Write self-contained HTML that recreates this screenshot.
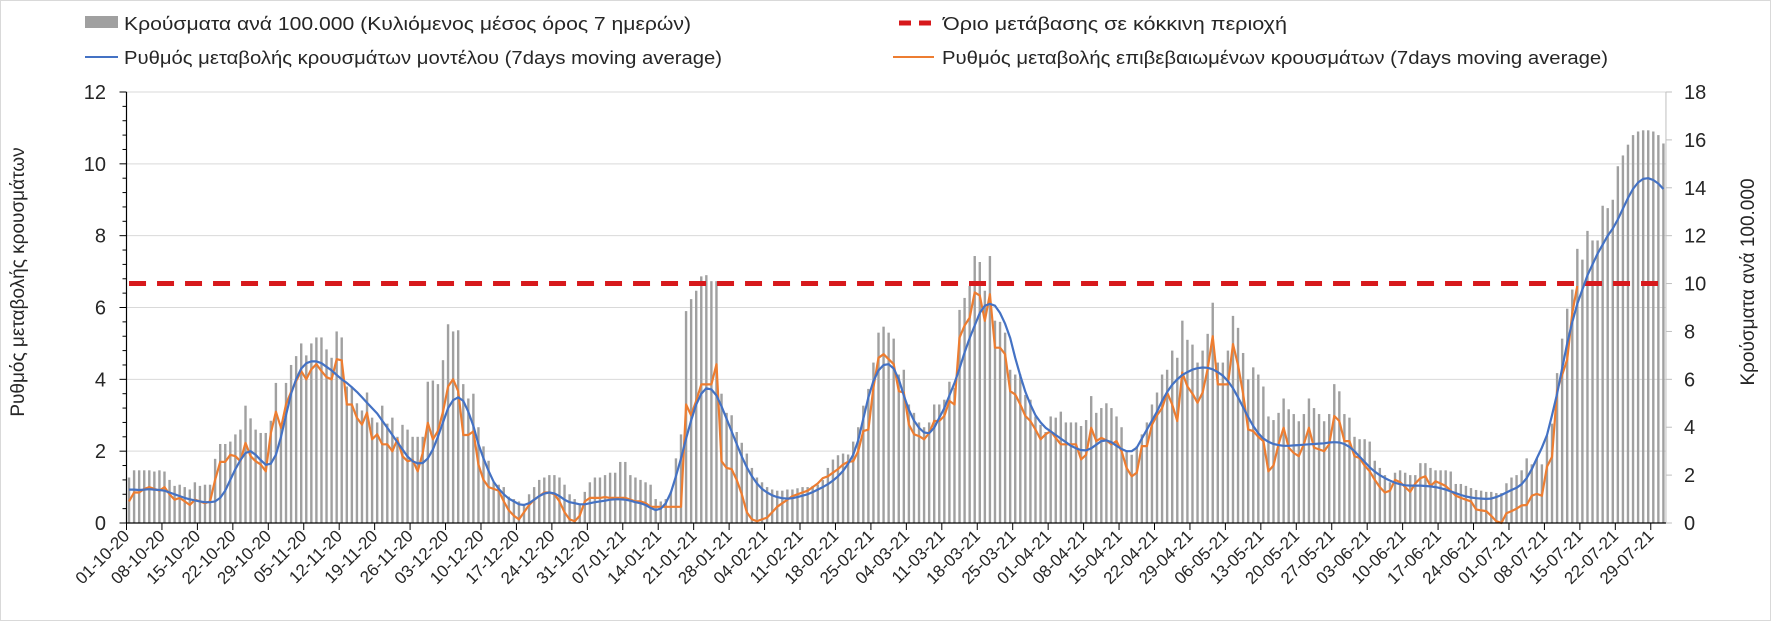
<!DOCTYPE html>
<html><head><meta charset="utf-8"><style>
html,body{margin:0;padding:0;background:#fff;}
svg{display:block;font-family:"Liberation Sans","DejaVu Sans",sans-serif;}
</style></head><body>
<svg id="chart" width="1771" height="621" viewBox="0 0 1771 621" xmlns="http://www.w3.org/2000/svg">
<rect x="0.5" y="0.5" width="1770" height="620" fill="#fff" stroke="#d9d9d9"/>
<g id="grid"></g>
<g id="bars"></g>
<g id="lines"></g>
<g id="axes"></g>
<g>
 <rect x="85" y="16" width="33" height="12" fill="#a0a0a0"/>
 <text x="124" y="30" font-size="18" fill="#262626" textLength="567" lengthAdjust="spacingAndGlyphs">Κρούσματα ανά 100.000 (Κυλιόμενος μέσος όρος 7 ημερών)</text>
 <line x1="85" y1="57" x2="118" y2="57" stroke="#4472c4" stroke-width="2"/>
 <text x="124" y="64" font-size="18" fill="#262626" textLength="598" lengthAdjust="spacingAndGlyphs">Ρυθμός μεταβολής κρουσμάτων μοντέλου (7days moving average)</text>
 <line x1="899" y1="23" x2="937" y2="23" stroke="#d7191c" stroke-width="5" stroke-dasharray="12,8"/>
 <text x="943" y="30" font-size="18" fill="#262626" textLength="344" lengthAdjust="spacingAndGlyphs">Όριο μετάβασης σε κόκκινη περιοχή</text>
 <line x1="893" y1="57" x2="934" y2="57" stroke="#ed7d31" stroke-width="2"/>
 <text x="942" y="64" font-size="18" fill="#262626" textLength="666" lengthAdjust="spacingAndGlyphs">Ρυθμός μεταβολής επιβεβαιωμένων κρουσμάτων (7days moving average)</text>
</g>
<text transform="translate(24,282) rotate(-90)" text-anchor="middle" font-size="19" fill="#262626">Ρυθμός μεταβολής κρουσμάτων</text>
<text transform="translate(1754,282) rotate(-90)" text-anchor="middle" font-size="19" fill="#262626">Κρούσματα ανά 100.000</text>
</svg>
<script>
const cases = [1.9,2.2,2.2,2.2,2.2,2.15,2.2,2.15,1.8,1.55,
1.6,1.5,1.4,1.7,1.55,1.6,1.6,2.68,3.3,3.3,
3.4,3.7,3.9,4.9,4.37,3.9,3.76,3.76,4.27,5.85,
4.1,5.85,6.6,6.97,7.5,7.0,7.5,7.75,7.75,7.25,
6.9,8.0,7.75,5.7,5.7,5.0,4.7,5.45,4.4,4.2,
4.9,4.15,4.4,3.6,4.1,3.9,3.6,3.6,3.6,5.9,
5.95,5.8,6.8,8.3,8.0,8.05,5.8,5.2,5.4,4.0,
3.2,2.6,1.7,1.6,1.5,1.1,1.0,0.9,0.8,1.2,
1.5,1.8,1.9,2.0,2.0,1.9,1.6,1.2,1.0,0.8,
1.3,1.7,1.9,1.9,2.0,2.1,2.1,2.55,2.55,2.0,
1.9,1.8,1.7,1.6,1.0,0.9,1.0,1.3,2.7,3.7,
8.85,9.35,9.7,10.3,10.35,10.1,10.1,5.4,4.6,4.5,
3.8,3.35,2.9,2.3,1.9,1.7,1.5,1.4,1.35,1.35,
1.4,1.4,1.45,1.5,1.5,1.55,1.6,1.8,2.3,2.65,
2.83,2.9,2.86,3.4,4.0,4.9,5.6,6.7,7.95,8.2,
7.95,7.7,6.2,6.4,4.95,4.6,4.2,4.0,4.2,4.95,
4.95,5.15,5.9,5.65,8.9,9.4,9.9,11.15,10.9,9.7,
11.15,8.45,8.4,7.95,6.4,6.2,6.2,5.35,5.15,4.45,
4.1,3.8,4.45,4.4,4.65,4.2,4.2,4.2,4.05,4.3,
5.3,4.6,4.8,5.0,4.8,4.45,4.0,3.0,2.85,3.2,
3.7,4.2,4.95,5.45,6.2,6.4,7.2,6.9,8.45,7.65,
7.45,6.7,7.2,7.9,9.2,6.7,6.7,7.2,8.65,8.15,
7.1,6.0,6.5,6.2,5.7,4.45,4.3,4.6,5.2,4.75,
4.55,4.25,4.55,5.2,4.8,4.55,4.25,4.55,5.8,5.5,
4.55,4.4,3.6,3.5,3.5,3.4,2.6,2.3,2.0,1.7,
2.1,2.2,2.1,2.0,2.0,2.5,2.5,2.3,2.2,2.2,
2.2,2.15,1.63,1.63,1.55,1.46,1.38,1.35,1.3,1.3,
1.25,1.25,1.66,1.9,2.0,2.2,2.7,2.45,2.7,2.45,
3.65,4.15,6.26,7.7,8.95,9.75,11.45,11.0,12.2,11.8,
11.8,13.25,13.15,13.5,14.9,15.35,15.8,16.2,16.35,16.4,
16.4,16.35,16.2,15.85];
const modelRate = [0.93,0.93,0.92,0.93,0.94,0.93,0.92,
0.9,0.85,0.8,0.75,0.7,0.66,0.63,
0.6,0.58,0.58,0.6,0.7,0.9,1.2,
1.5,1.75,1.95,2.0,1.9,1.75,1.62,
1.65,1.9,2.4,3.0,3.6,4.0,4.3,
4.45,4.5,4.5,4.45,4.35,4.25,4.12,
4.0,3.9,3.78,3.65,3.5,3.35,3.2,
3.05,2.85,2.65,2.45,2.25,2.05,1.85,
1.72,1.66,1.67,1.8,2.05,2.4,2.8,
3.2,3.42,3.5,3.4,3.1,2.7,2.2,
1.8,1.45,1.15,0.95,0.8,0.68,0.6,
0.52,0.5,0.55,0.65,0.75,0.82,0.85,
0.82,0.75,0.65,0.58,0.55,0.52,0.52,
0.55,0.58,0.6,0.62,0.65,0.66,0.66,
0.65,0.62,0.58,0.55,0.5,0.42,0.36,
0.4,0.55,0.85,1.3,1.8,2.35,2.85,
3.3,3.6,3.75,3.72,3.55,3.25,2.9,
2.55,2.2,1.85,1.55,1.3,1.1,0.95,
0.85,0.77,0.72,0.69,0.68,0.69,0.72,
0.76,0.8,0.86,0.93,1.0,1.08,1.18,
1.3,1.45,1.65,1.9,2.3,2.9,3.5,
3.95,4.25,4.4,4.42,4.3,4.0,3.55,
3.15,2.85,2.65,2.52,2.5,2.65,2.93,
3.2,3.55,3.9,4.3,4.75,5.15,5.5,
5.85,6.05,6.1,6.05,5.85,5.55,5.15,
4.6,4.1,3.65,3.3,3.0,2.8,2.65,
2.55,2.45,2.35,2.25,2.15,2.08,2.03,
2.02,2.08,2.18,2.28,2.3,2.25,2.15,
2.06,2.0,2.0,2.1,2.35,2.6,2.85,
3.1,3.4,3.65,3.85,4.0,4.12,4.2,
4.27,4.31,4.33,4.32,4.28,4.2,4.1,
3.95,3.75,3.5,3.22,2.95,2.7,2.5,
2.35,2.26,2.2,2.17,2.15,2.15,2.16,
2.17,2.18,2.19,2.2,2.21,2.22,2.24,
2.25,2.24,2.2,2.12,2.0,1.85,1.7,
1.55,1.43,1.33,1.25,1.18,1.12,1.08,
1.05,1.04,1.04,1.04,1.03,1.02,1.0,
0.97,0.93,0.88,0.83,0.78,0.74,0.71,
0.69,0.68,0.67,0.68,0.72,0.78,0.85,
0.92,0.98,1.08,1.25,1.5,1.8,2.1,
2.45,3.0,3.6,4.3,5.0,5.6,6.1,
6.5,6.9,7.2,7.5,7.75,8.0,8.2,
8.45,8.75,9.05,9.3,9.48,9.58,9.6,
9.55,9.45,9.3];
const confirmedRate = [0.6,0.85,0.85,0.95,1.0,0.95,0.9,1.0,0.8,0.65,
0.7,0.6,0.5,0.65,0.6,0.55,0.6,1.2,1.7,1.7,
1.9,1.86,1.72,2.23,1.86,1.72,1.63,1.44,2.5,3.1,
2.65,3.3,3.65,3.95,4.23,4.0,4.28,4.42,4.23,4.06,
4.0,4.56,4.53,3.3,3.3,2.93,2.74,3.07,2.33,2.47,
2.19,2.19,2.0,2.33,1.86,1.72,1.75,1.44,1.95,2.79,
2.33,2.56,3.1,3.8,4.0,3.67,2.45,2.45,2.55,1.63,
1.2,1.0,0.95,0.9,0.6,0.35,0.2,0.1,0.3,0.5,
0.65,0.75,0.85,0.85,0.8,0.6,0.3,0.1,0.05,0.2,
0.6,0.7,0.7,0.7,0.72,0.7,0.7,0.7,0.7,0.65,
0.6,0.6,0.55,0.45,0.45,0.45,0.45,0.45,0.45,0.45,
3.3,3.0,3.4,3.86,3.86,3.86,4.42,1.72,1.53,1.5,
1.2,0.8,0.3,0.1,0.05,0.1,0.15,0.3,0.45,0.55,
0.65,0.75,0.8,0.85,0.9,1.0,1.1,1.25,1.3,1.4,
1.5,1.63,1.7,1.72,2.0,2.56,2.6,3.77,4.6,4.7,
4.56,4.42,3.67,3.63,2.74,2.47,2.42,2.33,2.5,2.84,
2.84,2.98,3.4,3.3,5.16,5.5,5.72,6.42,6.33,5.63,
6.37,4.88,4.88,4.7,3.67,3.58,3.3,2.98,2.84,2.6,
2.33,2.47,2.56,2.37,2.19,2.19,2.19,2.19,1.77,1.9,
2.65,2.28,2.37,2.3,2.19,2.28,2.0,1.53,1.3,1.4,
2.14,2.14,2.74,3.0,3.2,3.63,3.3,2.84,4.19,3.8,
3.6,3.35,3.63,4.3,5.2,3.86,3.86,3.86,4.98,4.4,
3.6,2.6,2.56,2.4,2.28,1.44,1.6,2.2,2.65,2.1,
1.95,1.86,2.2,2.65,2.1,2.05,2.0,2.19,2.98,2.84,
2.28,2.28,1.86,1.81,1.6,1.44,1.2,1.0,0.85,0.9,
1.2,1.14,1.0,0.87,1.1,1.25,1.3,1.03,1.16,1.1,
1.03,0.9,0.76,0.7,0.65,0.6,0.38,0.35,0.33,0.2,
0.05,0,0.27,0.33,0.4,0.49,0.5,0.76,0.81,0.76,
1.57,1.84,3.69,4.12,4.55,5.85,6.6];
const thresholdCases = [10];
const leftTicks = [0,2,4,6,8,10,12];
const rightTicks = [0,2,4,6,8,10,12,14,16,18];
const dateLabels = ["01-10-20","08-10-20","15-10-20","22-10-20","29-10-20","05-11-20","12-11-20","19-11-20","26-11-20","03-12-20","10-12-20","17-12-20","24-12-20","31-12-20","07-01-21","14-01-21","21-01-21","28-01-21","04-02-21","11-02-21","18-02-21","25-02-21","04-03-21","11-03-21","18-03-21","25-03-21","01-04-21","08-04-21","15-04-21","22-04-21","29-04-21","06-05-21","13-05-21","20-05-21","27-05-21","03-06-21","10-06-21","17-06-21","24-06-21","01-07-21","08-07-21","15-07-21","22-07-21","29-07-21"];

const NS="http://www.w3.org/2000/svg";
const X0=126.5, DAY=5.064, NDAYS=304, Y0=523, YTOP=92;
const xEdge=d=>X0+d*DAY;
const xC=d=>X0+(d+0.5)*DAY;
const yL=v=>Y0-(Y0-YTOP)*v/12;
const yR=v=>Y0-(Y0-YTOP)*v/18;
const X1=xEdge(NDAYS);
function mk(tag,attrs,parent){const e=document.createElementNS(NS,tag);for(const k in attrs)e.setAttribute(k,attrs[k]);parent.appendChild(e);return e;}
const grid=document.getElementById('grid'),bars=document.getElementById('bars'),lines=document.getElementById('lines'),axes=document.getElementById('axes');

leftTicks.forEach(v=>{
  if(v>0){const g=mk('line',{x1:X0,x2:X1,y1:yL(v),y2:yL(v),stroke:'#d9d9d9','stroke-width':1},grid);
  
  }
  const t=mk('text',{x:106,y:yL(v)+7,'text-anchor':'end','font-size':20,fill:'#262626'},axes);
  t.textContent=v;
  
  
});
for(let v=0;v<=12.001;v+=0.4){
  const big=Math.abs(v-Math.round(v/2)*2)<0.01;
  const tk=mk('line',{x1:X0-(big?7:4),x2:X0,y1:yL(v),y2:yL(v),stroke:'#000','stroke-width':1},axes);
  
  
}
rightTicks.forEach(v=>{
  const tk=mk('line',{x1:X1,x2:X1+6,y1:yR(v),y2:yR(v),stroke:'#bfbfbf','stroke-width':1},axes);
  
  
  const t=mk('text',{x:1684,y:yR(v)+7,'font-size':20,fill:'#262626'},axes);
  t.textContent=v;
  
  
});
const ra=mk('line',{x1:X1,x2:X1,y1:YTOP,y2:Y0,stroke:'#bfbfbf','stroke-width':1},axes);


const la=mk('line',{x1:X0,x2:X0,y1:YTOP,y2:Y0,stroke:'#000','stroke-width':1.2},axes);



cases.forEach((v,i)=>{
  const r=mk('rect',{x:xC(i)-1.2,y:yR(v),width:2.4,height:Y0-yR(v),fill:'#a0a0a0'},bars);
  
  
});

const th=mk('line',{x1:xC(0),x2:xC(NDAYS-1),y1:yR(thresholdCases[0]),y2:yR(thresholdCases[0]),stroke:'#d7191c','stroke-width':5,'stroke-dasharray':'17,11'},lines);



function path(arr){let d='';let pen=false;arr.forEach((v,i)=>{if(v===null||v===undefined){pen=false;return;}d+=(pen?'L':'M')+xC(i).toFixed(1)+','+yL(v).toFixed(1);pen=true;});return d;}
const po=mk('path',{d:path(confirmedRate),fill:'none',stroke:'#ed7d31','stroke-width':2.2,'stroke-linejoin':'round'},lines);


const pb=mk('path',{d:path(modelRate),fill:'none',stroke:'#4472c4','stroke-width':2.2,'stroke-linejoin':'round'},lines);



const xa=mk('line',{x1:X0,x2:X1,y1:Y0,y2:Y0,stroke:'#000','stroke-width':1.2},axes);


dateLabels.forEach((s,k)=>{
  const x=xEdge(k*7);
  const tk=mk('line',{x1:x,x2:x,y1:Y0,y2:Y0+7,stroke:'#000','stroke-width':1},axes);
  
  
  const t=mk('text',{x:x+4,y:Y0+14,'text-anchor':'end','font-size':17,fill:'#262626',transform:`rotate(-45 ${x+4} ${Y0+14})`},axes);
  t.textContent=s;
  
  
});
</script>
</body></html>
